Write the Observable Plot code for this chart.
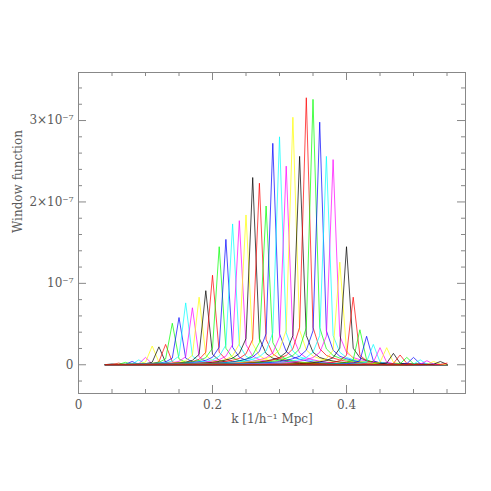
<!DOCTYPE html>
<html><head><meta charset="utf-8">
<script src="https://cdn.jsdelivr.net/npm/d3@7"></script>
<script src="https://cdn.jsdelivr.net/npm/@observablehq/plot@0.6"></script>
<style>body{margin:0;background:#fff}</style>
</head><body><div id="chart"></div>
<script>
// k grid of the window functions [h/Mpc]
const grid = [0.04,0.05,0.06,0.07,0.08,0.09,0.10,0.11,0.12,0.13,0.14,0.15,0.16,0.17,0.18,0.19,
  0.20,0.21,0.22,0.23,0.24,0.25,0.26,0.27,0.28,0.29,0.30,0.31,0.32,0.33,0.34,0.35,0.36,0.37,
  0.38,0.39,0.40,0.41,0.42,0.43,0.44,0.45,0.46,0.47,0.48,0.49,0.50,0.51,0.52,0.53,0.54,0.55];
// window centres
const centers = [0.05,0.06,0.07,0.08,0.09,0.10,0.11,0.12,0.13,0.14,0.15,0.16,0.17,0.18,0.19,
  0.20,0.21,0.22,0.23,0.24,0.25,0.26,0.27,0.28,0.29,0.30,0.31,0.32,0.33,0.34,0.35,0.36,0.37,
  0.38,0.39,0.40,0.41,0.42,0.43,0.44,0.45,0.46,0.47,0.48,0.49,0.50,0.51,0.52,0.53,0.54,0.55];
// peak heights (units of 1e-7)
const peaks = [0.01,0.02,0.03,0.04,0.06,0.09,0.23,0.22,0.25,0.51,0.58,0.76,0.70,0.83,0.91,
  1.10,1.45,1.54,1.73,1.77,1.84,2.30,2.23,1.95,2.72,2.80,2.44,3.04,2.56,3.28,3.26,2.98,2.56,
  2.52,1.26,1.45,0.83,0.43,0.35,0.25,0.21,0.21,0.14,0.12,0.09,0.09,0.06,0.05,0.04,0.04,0.02];
// relative wing profile by distance (in grid steps) from the centre
const profile = [1,0.14,0.06,0.035,0.025,0.018,0.013,0.010,0.008,0.006,0.005,0.004,0.0035,
  0.003,0.0025,0.002,0.0018,0.0015,0.0012,0.001];
const palette = ["#000000","#ff0000","#00ff00","#0000ff","#00ffff","#ff00ff","#ffff00"];

const xMajor = [0,0.2,0.4];
const xMajorLabels = ["0","0.2","0.4"];
const xMinor = [0.05,0.1,0.15,0.25,0.3,0.35,0.45,0.5,0.55];
const yMajor = [0,1,2,3];
const yMajorLabels = ["0","10\u207B\u2077","2\u00D710\u207B\u2077","3\u00D710\u207B\u2077"];
const yMinor = [-0.2,0.2,0.4,0.6,0.8,1.2,1.4,1.6,1.8,2.2,2.4,2.6,2.8,3.2,3.4];

const rows = [];
centers.forEach((c, i) => {
  grid.forEach(g => {
    const n = Math.round(Math.abs(g - c) / 0.01);
    rows.push({k: g, w: peaks[i] * (profile[n] ?? 0), win: i, color: palette[i % 7]});
  });
});

const W = 491, H = 491, mL = 78, mR = 26, mT = 72, mB = 98;
const ph = H - mT - mB, pw = W - mL - mR;
const ink = "#5a5a5a", frameInk = "#888";
const font = "DejaVu Serif";

const chart = Plot.plot({
  width: W, height: H,
  marginLeft: mL, marginRight: mR, marginTop: mT, marginBottom: mB,
  x: {domain: [0, 0.5776]},
  y: {domain: [-0.353, 3.59]},
  color: {type: "identity"},
  style: {fontFamily: font, fontSize: "12px", color: ink, background: "#fff"},
  marks: [
    Plot.line(rows, {x: "k", y: "w", z: "win", stroke: "color", strokeWidth: 1, strokeOpacity: 0.7}),
    Plot.frame({stroke: frameInk}),
    // bottom / top ticks (inward)
    Plot.tickX(xMajor, {x: d => d, insetTop: ph - 8, stroke: frameInk}),
    Plot.tickX(xMinor, {x: d => d, insetTop: ph - 4, stroke: frameInk}),
    Plot.tickX(xMajor, {x: d => d, insetBottom: ph - 8, stroke: frameInk}),
    Plot.tickX(xMinor, {x: d => d, insetBottom: ph - 4, stroke: frameInk}),
    // left / right ticks (inward)
    Plot.tickY(yMajor, {y: d => d, insetRight: pw - 8, stroke: frameInk}),
    Plot.tickY(yMinor, {y: d => d, insetRight: pw - 4, stroke: frameInk}),
    Plot.tickY(yMajor, {y: d => d, insetLeft: pw - 8, stroke: frameInk}),
    Plot.tickY(yMinor, {y: d => d, insetLeft: pw - 4, stroke: frameInk}),
    Plot.axisX({ticks: xMajor, tickSize: 0, tickPadding: 7, label: null,
      tickFormat: d => xMajorLabels[xMajor.indexOf(d)], fill: ink}),
    Plot.axisY({ticks: yMajor, tickSize: 0, tickPadding: 5, label: null,
      tickFormat: d => yMajorLabels[yMajor.indexOf(d)], fill: ink}),
    Plot.text(["Window function"], {text: d => d, frameAnchor: "left", dx: -60, rotate: -90,
      fill: ink, fontSize: 12}),
    Plot.text(["k [1/h\u207B\u00B9 Mpc]"], {text: d => d, frameAnchor: "bottom", dy: 29,
      fill: ink, fontSize: 12})
  ]
});
document.getElementById("chart").appendChild(chart);
</script>
</body></html>
